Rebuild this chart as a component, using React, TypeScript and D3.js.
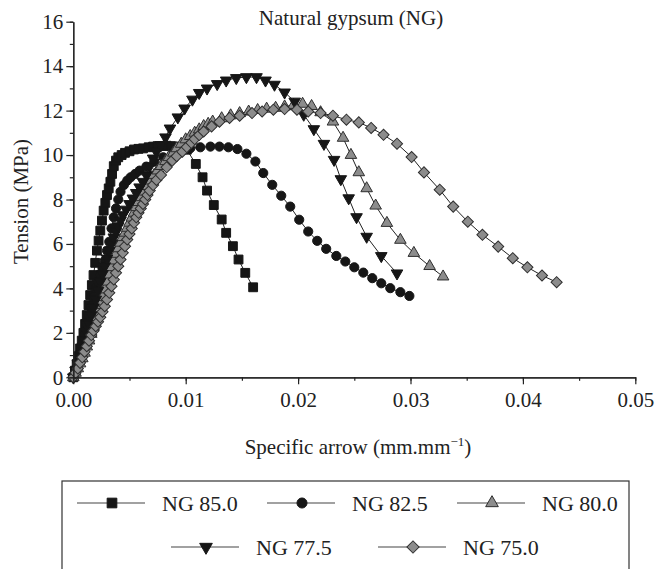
import React, { useEffect, useRef } from 'react';
import * as d3 from 'd3';

// stress-strain points: [specific arrow, tension MPa]
const ng850: [number, number][] = [
  [0, 0], [0.00015, 0.3], [0.0003, 0.6], [0.00045, 0.95], [0.0006, 1.3], [0.00075, 1.65], [0.0009, 2.0],
  [0.00105, 2.4], [0.0012, 2.8], [0.00135, 3.25], [0.0015, 3.7], [0.00165, 4.15], [0.0018, 4.6],
  [0.00195, 5.15], [0.0021, 5.7], [0.00225, 6.15], [0.0024, 6.6], [0.00255, 7.05], [0.0027, 7.5],
  [0.00285, 7.85], [0.003, 8.2], [0.00315, 8.5], [0.0033, 8.8], [0.00345, 9.15], [0.0036, 9.5],
  [0.0038, 9.75], [0.004, 9.9], [0.0043, 10.0], [0.0046, 10.1], [0.005, 10.17], [0.0054, 10.25],
  [0.0058, 10.28], [0.0062, 10.3], [0.0067, 10.35], [0.0071, 10.38], [0.0075, 10.4], [0.0079, 10.41],
  [0.0083, 10.42], [0.0087, 10.4], [0.0091, 10.38], [0.0096, 10.32], [0.0101, 10.24], [0.0109, 9.6],
  [0.0115, 9.0], [0.0119, 8.4], [0.0125, 7.75], [0.0132, 7.1], [0.0136, 6.5], [0.0142, 5.9],
  [0.0147, 5.3], [0.0153, 4.7], [0.016, 4.05],
];

const ng825: [number, number][] = [
  [0, 0], [0.0002, 0.35], [0.0004, 0.7], [0.0006, 1.1], [0.0008, 1.5], [0.001, 1.95], [0.0012, 2.4],
  [0.0014, 2.8], [0.0016, 3.2], [0.0018, 3.6], [0.002, 4.0], [0.0022, 4.3], [0.0024, 4.6], [0.0026, 4.9],
  [0.0028, 5.25], [0.003, 5.7], [0.0032, 6.1], [0.0034, 6.7], [0.0036, 7.2], [0.0038, 7.6], [0.004, 8.0],
  [0.0042, 8.35], [0.0045, 8.65], [0.0048, 8.85], [0.0051, 9.0], [0.0055, 9.15], [0.0059, 9.3],
  [0.0065, 9.48], [0.0072, 9.7], [0.008, 9.9], [0.0088, 10.05], [0.0096, 10.2], [0.0104, 10.3],
  [0.0113, 10.35], [0.0122, 10.38], [0.013, 10.38], [0.0138, 10.35], [0.0146, 10.27], [0.0154, 10.06],
  [0.0162, 9.71], [0.0169, 9.19], [0.0177, 8.66], [0.0185, 8.17], [0.0193, 7.68], [0.0201, 7.09],
  [0.0209, 6.56], [0.0217, 6.14], [0.0225, 5.78], [0.0234, 5.46], [0.0242, 5.21], [0.025, 4.95],
  [0.0258, 4.71], [0.0266, 4.46], [0.0274, 4.23], [0.0282, 4.01], [0.0291, 3.83], [0.0299, 3.66],
];

const ng800: [number, number][] = [
  [0, 0], [0.0002, 0.2], [0.0004, 0.4], [0.0006, 0.62], [0.0008, 0.85], [0.001, 1.1], [0.0012, 1.38],
  [0.0014, 1.65], [0.0016, 1.95], [0.0018, 2.28], [0.002, 2.6], [0.0022, 2.92], [0.0024, 3.25],
  [0.0026, 3.6], [0.0028, 3.95], [0.003, 4.3], [0.0032, 4.62], [0.0034, 4.95], [0.0036, 5.25],
  [0.0038, 5.55], [0.004, 5.8], [0.0042, 6.05], [0.0044, 6.3], [0.0046, 6.5], [0.0048, 6.72],
  [0.005, 6.95], [0.0052, 7.18], [0.0054, 7.4], [0.0056, 7.65], [0.0058, 7.88], [0.006, 8.1],
  [0.0063, 8.35], [0.0066, 8.6], [0.0069, 8.85], [0.0072, 9.1], [0.0075, 9.3], [0.0078, 9.5],
  [0.0082, 9.72], [0.0085, 9.9], [0.0089, 10.1], [0.0092, 10.3], [0.0096, 10.5], [0.01, 10.7],
  [0.0104, 10.85], [0.0108, 11.0], [0.0112, 11.15], [0.0116, 11.3], [0.012, 11.4], [0.0124, 11.5],
  [0.0132, 11.65], [0.014, 11.78], [0.0148, 11.88], [0.0156, 11.95], [0.0164, 12.02], [0.0172, 12.08],
  [0.018, 12.12], [0.0188, 12.18], [0.0196, 12.25], [0.0204, 12.3], [0.0212, 12.2], [0.022, 11.92],
  [0.0231, 11.5], [0.024, 10.77], [0.0247, 10.0], [0.0254, 9.22], [0.0261, 8.5], [0.0269, 7.72],
  [0.0279, 6.94], [0.0291, 6.18], [0.0303, 5.59], [0.0317, 5.0], [0.0329, 4.53],
];

const ng775: [number, number][] = [
  [0, 0], [0.0002, 0.3], [0.0004, 0.6], [0.0006, 0.95], [0.0008, 1.3], [0.001, 1.65], [0.0012, 2.0],
  [0.0014, 2.4], [0.0016, 2.8], [0.0018, 3.15], [0.002, 3.5], [0.0022, 3.9], [0.0024, 4.3],
  [0.0026, 4.65], [0.0028, 5.0], [0.003, 5.35], [0.0032, 5.7], [0.0034, 6.0], [0.0036, 6.3],
  [0.0038, 6.55], [0.004, 6.8], [0.0042, 7.05], [0.0044, 7.3], [0.0047, 7.55], [0.005, 7.8],
  [0.0053, 8.05], [0.0056, 8.3], [0.0059, 8.55], [0.0062, 8.8], [0.0065, 9.1], [0.0068, 9.5],
  [0.0071, 9.85], [0.0074, 10.15], [0.0078, 10.45], [0.0082, 10.8], [0.0086, 11.2], [0.0093, 11.7],
  [0.0099, 12.1], [0.0106, 12.5], [0.0112, 12.8], [0.0119, 13.0], [0.0128, 13.2], [0.0136, 13.36],
  [0.0145, 13.47], [0.0154, 13.51], [0.0163, 13.51], [0.0171, 13.36], [0.0179, 13.17], [0.0188, 12.82],
  [0.0197, 12.41], [0.0205, 11.82], [0.0214, 11.17], [0.0223, 10.51], [0.0232, 9.79], [0.0238, 8.92],
  [0.0245, 8.06], [0.0252, 7.21], [0.0261, 6.33], [0.0274, 5.46], [0.0288, 4.68],
];

const ng750: [number, number][] = [
  [0, 0], [0.0002, 0.2], [0.0004, 0.4], [0.0006, 0.65], [0.0008, 0.9], [0.001, 1.15], [0.0012, 1.4],
  [0.0014, 1.65], [0.0016, 1.9], [0.0018, 2.1], [0.002, 2.3], [0.0022, 2.5], [0.0024, 2.7],
  [0.0026, 2.95], [0.0028, 3.2], [0.003, 3.5], [0.0032, 3.8], [0.0034, 4.1], [0.0036, 4.4],
  [0.0038, 4.7], [0.004, 5.0], [0.0042, 5.3], [0.0044, 5.6], [0.0046, 5.9], [0.0048, 6.2],
  [0.005, 6.45], [0.0052, 6.7], [0.0054, 6.95], [0.0056, 7.2], [0.0058, 7.4], [0.006, 7.6],
  [0.0062, 7.8], [0.0064, 8.0], [0.0066, 8.2], [0.0068, 8.4], [0.0071, 8.65], [0.0074, 8.88],
  [0.0078, 9.1], [0.0083, 9.45], [0.0088, 9.75], [0.0092, 9.95], [0.0097, 10.15], [0.0101, 10.36],
  [0.0105, 10.55], [0.0108, 10.72], [0.0112, 10.9], [0.0116, 11.06], [0.0123, 11.29], [0.013, 11.5],
  [0.0139, 11.67], [0.0148, 11.77], [0.0159, 11.89], [0.0168, 11.96], [0.0178, 12.04], [0.0188, 12.07],
  [0.0199, 12.04], [0.0209, 11.96], [0.022, 11.89], [0.0231, 11.77], [0.0243, 11.59], [0.0254, 11.47],
  [0.0265, 11.22], [0.0276, 10.91], [0.0288, 10.51], [0.0301, 9.91], [0.0312, 9.22], [0.0326, 8.44],
  [0.0338, 7.68], [0.0351, 7.0], [0.0364, 6.41], [0.0378, 5.88], [0.0391, 5.36], [0.0404, 4.95],
  [0.0417, 4.58], [0.043, 4.28],
];

const seriesNames = ['NG 85.0', 'NG 82.5', 'NG 80.0', 'NG 77.5', 'NG 75.0'];
const seriesData = [ng850, ng825, ng800, ng775, ng750];
const yTicks = [0, 2, 4, 6, 8, 10, 12, 14, 16];
const xTicks = [0, 0.01, 0.02, 0.03, 0.04, 0.05];

const FONT = '"Liberation Serif", "Times New Roman", serif';
const W = 667;
const H = 569;

const markerStyles = [
  { type: d3.symbolSquare, size: 78, rotate: 0, fill: '#161616', stroke: '#161616' },
  { type: d3.symbolCircle, size: 66, rotate: 0, fill: '#161616', stroke: '#161616' },
  { type: d3.symbolTriangle, size: 58, rotate: 0, fill: '#8c8c8c', stroke: '#2e2e2e' },
  { type: d3.symbolTriangle, size: 58, rotate: 180, fill: '#161616', stroke: '#161616' },
  { type: d3.symbolSquare, size: 62, rotate: 45, fill: '#8c8c8c', stroke: '#2e2e2e' },
];

// legend slot positions: [line start, row centre]
const legendSlots = [
  [77, 503], [267, 503], [457, 503],
  [171, 547], [378, 547],
];

const App = () => {
  const xAxisRef = useRef<SVGGElement>(null);
  const yAxisRef = useRef<SVGGElement>(null);

  const x = d3.scaleLinear().domain([0, 0.05]).range([73.3, 635.3]);
  const y = d3.scaleLinear().domain([0, 16]).range([377.3, 21.7]);

  useEffect(() => {
    document.body.style.margin = '0';

    const xg = d3.select(xAxisRef.current);
    xg.selectAll('*').remove();
    xg.append('g').call(
      d3.axisBottom(x).tickValues(d3.range(0, 0.0501, 0.005)).tickSize(3.5).tickSizeOuter(0).tickFormat(() => '')
    );
    xg.append('g').call(
      d3.axisBottom(x).tickValues(xTicks).tickSize(7).tickSizeOuter(0).tickPadding(8).tickFormat(d3.format('.2f'))
    );

    const yg = d3.select(yAxisRef.current);
    yg.selectAll('*').remove();
    yg.append('g').call(
      d3.axisLeft(y).tickValues(d3.range(0, 16.1, 1)).tickSize(3.5).tickSizeOuter(0).tickFormat(() => '')
    );
    yg.append('g').call(
      d3.axisLeft(y).tickValues(yTicks).tickSize(7).tickSizeOuter(0).tickPadding(3).tickFormat(d3.format('d'))
    );

    [xg, yg].forEach(g => {
      g.selectAll('path, line').attr('stroke', '#222').attr('stroke-width', 1.2);
      g.selectAll('text').attr('font-family', FONT).attr('font-size', 21).attr('fill', '#222');
    });
  }, []);

  const line = d3.line<[number, number]>().x(d => x(d[0])).y(d => y(d[1]));

  return (
    <svg width={W} height={H} style={{ display: 'block' }}>
      <rect width={W} height={H} fill="#fff" />
      <text x={351} y={25} textAnchor="middle" fontFamily={FONT} fontSize={21} fill="#222">
        Natural gypsum (NG)
      </text>

      {seriesData.map((data, i) => {
        const m = markerStyles[i];
        const sym = d3.symbol().type(m.type).size(m.size)();
        return (
          <g key={seriesNames[i]}>
            <path d={line(data) || ''} fill="none" stroke="#222" strokeWidth={1} />
            {data.map((d, j) => (
              <path
                key={j}
                d={sym || ''}
                transform={`translate(${x(d[0])},${y(d[1])}) rotate(${m.rotate})`}
                fill={m.fill}
                stroke={m.stroke}
                strokeWidth={1}
              />
            ))}
          </g>
        );
      })}

      <g ref={xAxisRef} transform={`translate(0,${y(0)})`} />
      <g ref={yAxisRef} transform={`translate(${x(0)},0)`} />

      <text
        transform={`translate(28,${(y(0) + y(16)) / 2 + 2}) rotate(-90)`}
        textAnchor="middle"
        fontFamily={FONT}
        fontSize={21}
        fill="#222"
      >
        Tension (MPa)
      </text>
      <text x={358} y={454} textAnchor="middle" fontFamily={FONT} fontSize={21} fill="#222">
        Specific arrow (mm.mm
        <tspan dy={-8} fontSize={13}>−1</tspan>
        <tspan dy={8}>)</tspan>
      </text>

      <rect x={62} y={481} width={567} height={110} fill="none" stroke="#333" strokeWidth={1.2} />
      {seriesNames.map((name, i) => {
        const m = markerStyles[i];
        const sym = d3.symbol().type(m.type).size(m.size * 1.2)();
        const [lx, ly] = legendSlots[i];
        return (
          <g key={name}>
            <line x1={lx} x2={lx + 68} y1={ly} y2={ly} stroke="#444" strokeWidth={1.2} />
            <path
              d={sym || ''}
              transform={`translate(${lx + 35},${ly}) rotate(${m.rotate})`}
              fill={m.fill}
              stroke={m.stroke}
              strokeWidth={1}
            />
            <text x={lx + 85} y={ly + 8} fontFamily={FONT} fontSize={22} fill="#222">
              {name}
            </text>
          </g>
        );
      })}
    </svg>
  );
};

export default App;
